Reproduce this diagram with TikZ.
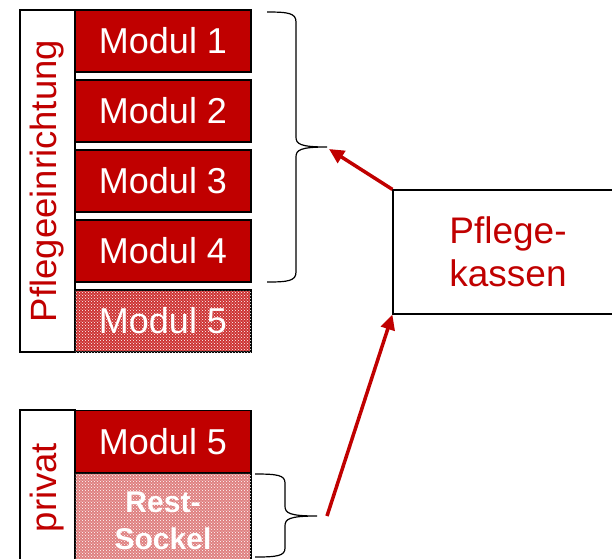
\documentclass[tikz,border=0pt]{standalone}
\usepackage{fontspec}
\setmainfont{Liberation Sans}
\usepackage{tikz}
\usetikzlibrary{positioning,arrows.meta,patterns}

\definecolor{pfred}{RGB}{192,0,0}

\begin{document}
\begin{tikzpicture}[x=1pt, y=-1pt,
  modul/.style={draw=black, line width=1.2pt, fill=pfred, text=white, minimum width=176pt, minimum height=62pt, inner sep=0pt, font=\fontsize{36}{42}\selectfont},
  hatched/.style={modul, fill=pfred!#1!white, postaction={pattern=crosshatch dots, pattern color=white}},
  lbl/.style={draw=black, line width=1.2pt, fill=white, rotate=90, inner sep=0pt, text=pfred, font=\fontsize{36.5}{42}\selectfont},
  kl/.style={draw=black, line width=1.2pt},
  zuord/.style={draw=pfred, line width=3.5pt, -{Triangle[length=15pt, width=14pt]}}]
\useasboundingbox (0,0) rectangle (612,558);
\clip (0,0) rectangle (612,558);
% Pflegeeinrichtung
\node[lbl, minimum width=342pt, minimum height=55pt] (pe) at (47.5,181) {Pflegeeinrichtung};
\node[modul] (m1) at (163,41)  {Modul 1};
\node[modul] (m2) at (163,111) {Modul 2};
\node[modul] (m3) at (163,181) {Modul 3};
\node[modul] (m4) at (163,251) {Modul 4};
\node[hatched=80] (m5) at (163,321) {Modul 5};
% privat
\node[lbl, minimum width=155pt, minimum height=55pt] (pv) at (47.5,487.5) {privat};
\node[modul] (p5) at (163,441.5) {Modul 5};
\node[hatched=50, minimum height=95pt, align=center, font=\fontsize{30}{37}\selectfont\bfseries] (rs) at (163,520.5) {Rest-\\Sockel};
% Pflegekassen
\node[draw=black, line width=1.2pt, minimum width=230pt, minimum height=124pt, align=center, text=pfred, font=\fontsize{37}{43}\selectfont] (pk) at (508,252) {Pflege-\\kassen};
% Klammern
\coordinate (t1) at (327,147);
\coordinate (t2) at (317,516);
\draw[kl] (267,12) .. controls (288,12) and (296,13) .. (296,22) -- (296,137)
  .. controls (296,144) and (300,147) .. (t1)
  .. controls (300,147) and (296,150) .. (296,157) -- (296,272)
  .. controls (296,281) and (288,282) .. (267,282);
\draw[kl] (255,474) .. controls (277,474) and (285,475) .. (285,483) -- (285,506)
  .. controls (285,513) and (289,516) .. (t2)
  .. controls (289,516) and (285,519) .. (285,526) -- (285,548)
  .. controls (285,556) and (277,557) .. (255,557);
\draw[zuord] (pk.north west) -- ([xshift=2pt,yshift=-2pt]t1);
\draw[zuord] ([xshift=10pt]t2) -- (pk.south west);
\end{tikzpicture}
\end{document}
